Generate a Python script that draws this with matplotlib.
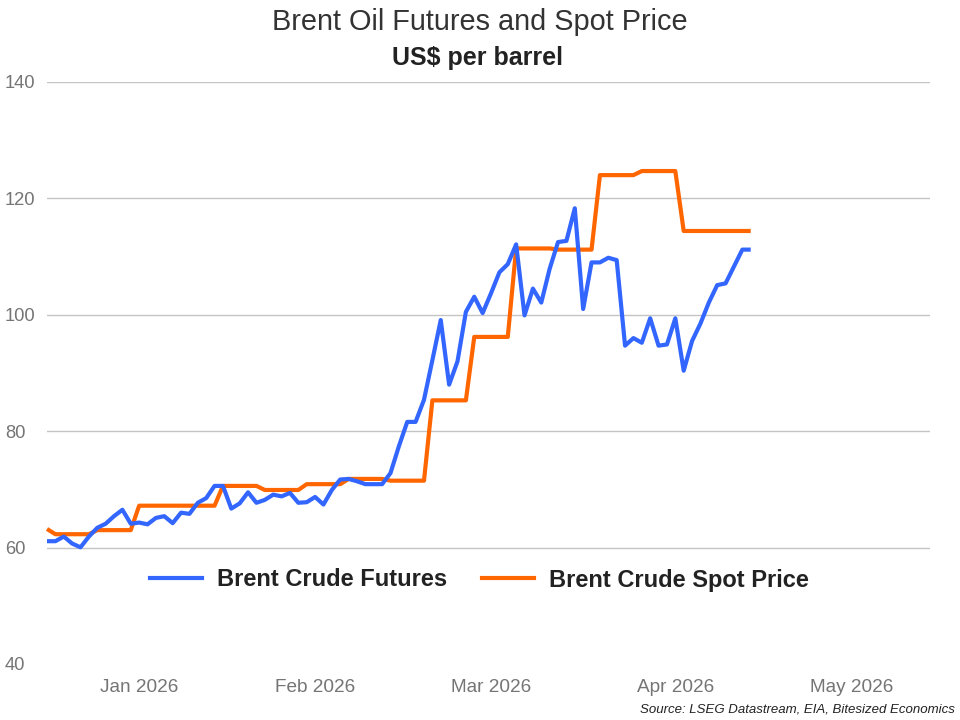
import matplotlib
matplotlib.use("Agg")
import matplotlib.pyplot as plt
from matplotlib.lines import Line2D

plt.rcParams['font.family'] = ['Liberation Sans', 'DejaVu Sans']

# ---- data (one value per trading day, starting 17 Dec 2025) ----
futures = [61.1, 61.1, 61.9, 60.7, 60.05, 61.9, 63.4, 64.1, 65.4, 66.5, 64.1, 64.3,
           64.0, 65.1, 65.4, 64.2, 66.0, 65.8, 67.7, 68.5, 70.6, 70.6, 66.7, 67.6,
           69.5, 67.7, 68.2, 69.1, 68.8, 69.4, 67.7, 67.8, 68.7, 67.4, 69.9, 71.7,
           71.8, 71.4, 70.9, 70.9, 70.9, 72.8, 77.4, 81.6, 81.6, 85.4,
           92.2, 99.1, 88.0, 92.0, 100.5, 103.1, 100.3, 103.7, 107.3, 108.7, 112.1,
           99.9, 104.5, 102.1, 107.9, 112.5, 112.7,
           118.3, 101.0, 109.0, 109.0, 109.8, 109.4, 94.7, 96.0, 95.2, 99.4, 94.7,
           94.9, 99.4, 90.4, 95.5, 98.5, 102.1, 105.1, 105.4, 108.3, 111.2, 111.2]

spot = [63.2,
        62.3, 62.3, 62.3, 62.3, 62.3,
        63.0, 63.0, 63.0, 63.0, 63.0,
        67.2, 67.2, 67.2, 67.2, 67.2, 67.2, 67.2, 67.2, 67.2, 67.2,
        70.6, 70.6, 70.6, 70.6, 70.6,
        69.9, 69.9, 69.9, 69.9, 69.9,
        70.9, 70.9, 70.9, 70.9, 70.9,
        71.8, 71.8, 71.8, 71.8, 71.8,
        71.5, 71.5, 71.5, 71.5, 71.5,
        85.3, 85.3, 85.3, 85.3, 85.3,
        96.2, 96.2, 96.2, 96.2, 96.2,
        111.4, 111.4, 111.4, 111.4, 111.4,
        111.2, 111.2, 111.2, 111.2, 111.2,
        124.0, 124.0, 124.0, 124.0, 124.0,
        124.7, 124.7, 124.7, 124.7, 124.7,
        114.4, 114.4, 114.4, 114.4, 114.4, 114.4, 114.4, 114.4, 114.4]

month_labels = ['Jan 2026', 'Feb 2026', 'Mar 2026', 'Apr 2026', 'May 2026']
month_day_index = [11, 32, 53, 75, 96]   # trading-day index where each month starts
y_ticks = [40, 60, 80, 100, 120, 140]

series_names = ['Brent Crude Futures', 'Brent Crude Spot Price']
colors = ['#3366ff', '#ff6600']

# ---- figure ----
fig = plt.figure(figsize=(9.6, 7.2), dpi=100)
ax = fig.add_axes([47/960, 1 - 664/720, (930 - 47)/960, (664 - 82)/720])

x_f = list(range(len(futures)))
x_s = list(range(len(spot)))
ax.plot(x_f, futures, color=colors[0], lw=3.0, solid_joinstyle='round',
        solid_capstyle='butt', zorder=3, clip_on=False)
ax.plot(x_s, spot, color=colors[1], lw=3.0, solid_joinstyle='round',
        solid_capstyle='butt', zorder=2, clip_on=False)

ax.set_xlim(0, 105.4)
ax.set_ylim(40, 140)
ax.set_yticks(y_ticks)
ax.set_xticks(month_day_index)
ax.set_xticklabels(month_labels)

for v in y_ticks[1:]:
    ax.axhline(v, color='#c4c4c4', lw=1.0, zorder=1)

for s in ax.spines.values():
    s.set_visible(False)
ax.tick_params(axis='both', length=0, colors='#757575')
ax.tick_params(axis='y', labelsize=13.2, pad=0)
ax.tick_params(axis='x', labelsize=13.7, pad=11)
for lab in ax.get_yticklabels():
    lab.set_horizontalalignment('left')
    lab.set_x(-42/883)

# legend
handles = [Line2D([0], [0], color=c, lw=3.0) for c in colors]
leg = ax.legend(handles, series_names, loc='center',
                bbox_to_anchor=(0.5 - 9/883, (580 - 664) / (82 - 664)),
                ncol=2, frameon=False, handlelength=2.2, handletextpad=0.65,
                columnspacing=1.45, prop={'size': 17.0, 'weight': 'bold'})
for t in leg.get_texts():
    t.set_color('#222222')

# titles
fig.text(0.5, 1 - 22/720, 'Brent Oil Futures and Spot Price', ha='center', va='center',
         fontsize=20.8, color='#333333')
fig.text(0.5 - 2/960, 1 - 58/720, 'US$ per barrel', ha='center', va='center',
         fontsize=18.0, fontweight='bold', color='#222222')

fig.text(955/960, 1 - 710/720, 'Source: LSEG Datastream, EIA, Bitesized Economics',
         ha='right', va='center', fontsize=9.5, style='italic', color='#222222')

fig.savefig('out.png', dpi=100)
